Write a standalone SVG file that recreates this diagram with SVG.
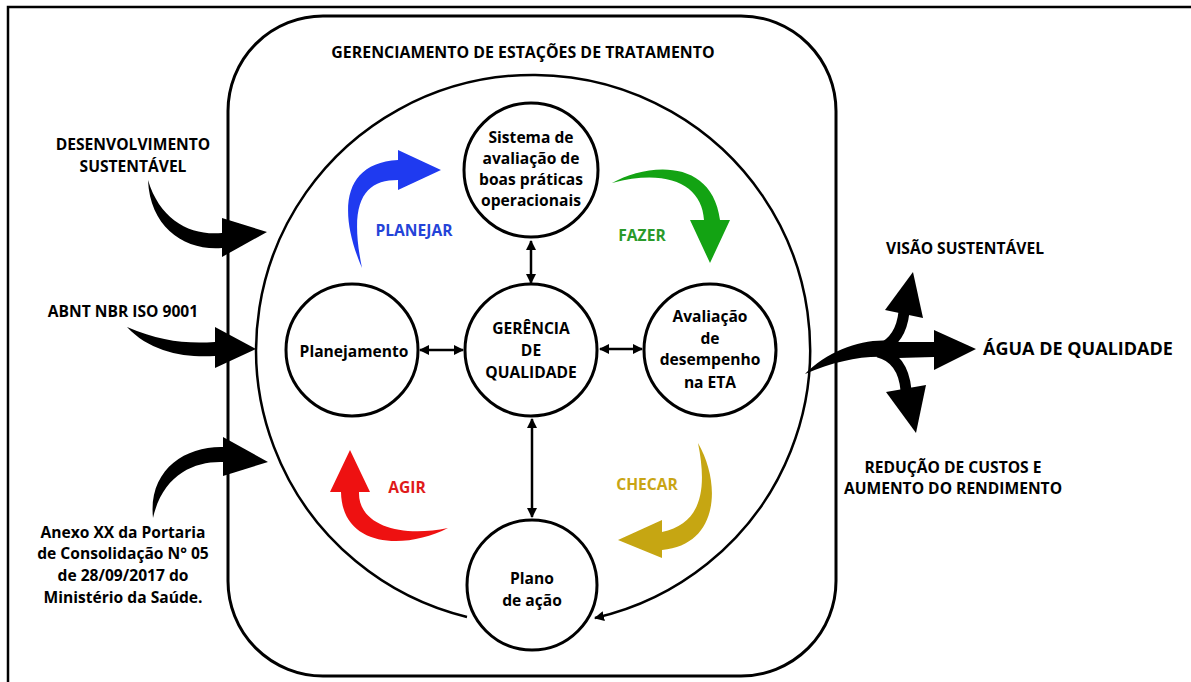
<svg xmlns="http://www.w3.org/2000/svg" width="1191" height="682" viewBox="0 0 1191 682">
<style>
.t{font-family:"Open Sans","Liberation Sans",sans-serif;font-weight:700;font-size:15.6px;text-anchor:middle;fill:#000}
.node{fill:#fff;stroke:#000;stroke-width:3}
.conn{fill:none;stroke:#000;stroke-width:2.5}
.blk{fill:#000}
</style>
<defs>
<marker id="ah" viewBox="0 0 10 10" refX="9" refY="5" markerWidth="4" markerHeight="4" orient="auto-start-reverse" markerUnits="strokeWidth">
<path d="M0,0 L10,5 L0,10 Z" fill="#000"/>
</marker>
</defs>
<rect width="1191" height="682" fill="#fff"/>
<path d="M8,682 V7 H1191" fill="none" stroke="#000" stroke-width="2.5"/>

<g id="ger-estacoes">
<rect x="228" y="16" width="608" height="660" rx="95" ry="95" fill="none" stroke="#000" stroke-width="3"/>
<text class="t" x="523" y="58" style="font-size:15.9px">GERENCIAMENTO DE ESTAÇÕES DE TRATAMENTO</text>
</g>

<g id="connectors">
<path class="conn" d="M467,617 A277,275 0 1 1 595,618" stroke-width="3" marker-end="url(#ah)"/>
<line class="conn" x1="531" y1="241" x2="531" y2="283" marker-start="url(#ah)" marker-end="url(#ah)"/>
<line class="conn" x1="420" y1="350" x2="463" y2="350" marker-start="url(#ah)" marker-end="url(#ah)"/>
<line class="conn" x1="600" y1="349" x2="642" y2="349" marker-start="url(#ah)" marker-end="url(#ah)"/>
<line class="conn" x1="532" y1="419" x2="532" y2="517" marker-start="url(#ah)" marker-end="url(#ah)"/>
</g>

<g id="sistema">
<circle class="node" cx="531" cy="170" r="67"/>
<text class="t" x="531" y="143">Sistema de</text>
<text class="t" x="531" y="164">avaliação de</text>
<text class="t" x="531" y="185">boas práticas</text>
<text class="t" x="531" y="206">operacionais</text>
</g>

<g id="planejamento">
<circle class="node" cx="352" cy="350" r="66"/>
<text class="t" x="354" y="357">Planejamento</text>
</g>

<g id="gerencia">
<circle class="node" cx="531" cy="350" r="66"/>
<text class="t" x="531" y="334">GERÊNCIA</text>
<text class="t" x="531" y="356">DE</text>
<text class="t" x="531" y="378">QUALIDADE</text>
</g>

<g id="avaliacao">
<circle class="node" cx="710" cy="350" r="66"/>
<text class="t" x="710" y="322">Avaliação</text>
<text class="t" x="710" y="344">de</text>
<text class="t" x="710" y="365">desempenho</text>
<text class="t" x="710" y="388">na ETA</text>
</g>

<g id="plano">
<circle class="node" cx="532" cy="585" r="65"/>
<text class="t" x="532" y="584">Plano</text>
<text class="t" x="532" y="606">de ação</text>
</g>

<g id="planejar">
<path d="M362,268 C338,212 342,163 398,160 L398,150 L441,170 L398,190 L398,180 C365,180 348,200 362,268 Z" fill="#1f3af0"/>
<text class="t" x="414" y="236" style="fill:#2443d8">PLANEJAR</text>
</g>

<g id="fazer">
<path d="M612,183 C648,163 712,158 720,220 L730,220 L710,263 L690,220 L704,220 C702,185 668,168 612,183 Z" fill="#13a313"/>
<text class="t" x="642" y="241" style="fill:#2a9a2a">FAZER</text>
</g>

<g id="agir">
<path d="M448,528 C405,550 342,548 341,492 L330,492 L350,450 L370,492 L359,492 C358,525 400,538 448,528 Z" fill="#ee1111"/>
<text class="t" x="407" y="493" style="fill:#e01a1a">AGIR</text>
</g>

<g id="checar">
<path d="M698,443 C722,485 718,545 662,550 L662,558 L618,540 L662,520 L662,532 C700,524 708,492 698,443 Z" fill="#c6a612"/>
<text class="t" x="647" y="490" style="fill:#c9a514">CHECAR</text>
</g>

<g id="desenvolvimento">
<path class="blk" d="M148,180 C150,228 185,251 222,248 L222,257 L267,232 L222,218 L222,233 C190,236 160,220 148,180 Z"/>
<text class="t" x="133" y="150">DESENVOLVIMENTO</text>
<text class="t" x="133" y="172">SUSTENTÁVEL</text>
</g>

<g id="abnt">
<path class="blk" d="M127,327 C150,352 185,358 215,356 L215,368 L256,349 L215,327 L215,342 C185,344 160,341 127,327 Z"/>
<text class="t" x="123" y="317">ABNT NBR ISO 9001</text>
</g>

<g id="anexo">
<path class="blk" d="M153,518 C148,470 185,446 223,447 L223,437 L268,462 L223,476 L223,462 C195,461 163,474 153,518 Z"/>
<text class="t" x="123" y="538">Anexo XX da Portaria</text>
<text class="t" x="123" y="559">de Consolidação N° 05</text>
<text class="t" x="123" y="581">de 28/09/2017 do</text>
<text class="t" x="123" y="603">Ministério da Saúde.</text>
</g>

<g id="saidas">
<path class="blk" d="M805,374 C830,348 870,336 898,342 L934,342 L934,330 L976,349 L934,370 L934,357 L898,358 C868,354 838,360 805,374 Z"/>
<path d="M880,349 Q901,340 904,312" fill="none" stroke="#000" stroke-width="11"/>
<path class="blk" d="M885,310 L913,272 L923,318 Z"/>
<path d="M878,352 Q903,358 906,390" fill="none" stroke="#000" stroke-width="11"/>
<path class="blk" d="M886,392 L916,433 L926,385 Z"/>
<text class="t" x="965" y="254">VISÃO SUSTENTÁVEL</text>
<text class="t" x="1078" y="355" style="font-size:18px">ÁGUA DE QUALIDADE</text>
<text class="t" x="953" y="473">REDUÇÃO DE CUSTOS E</text>
<text class="t" x="953" y="494">AUMENTO DO RENDIMENTO</text>
</g>
</svg>
